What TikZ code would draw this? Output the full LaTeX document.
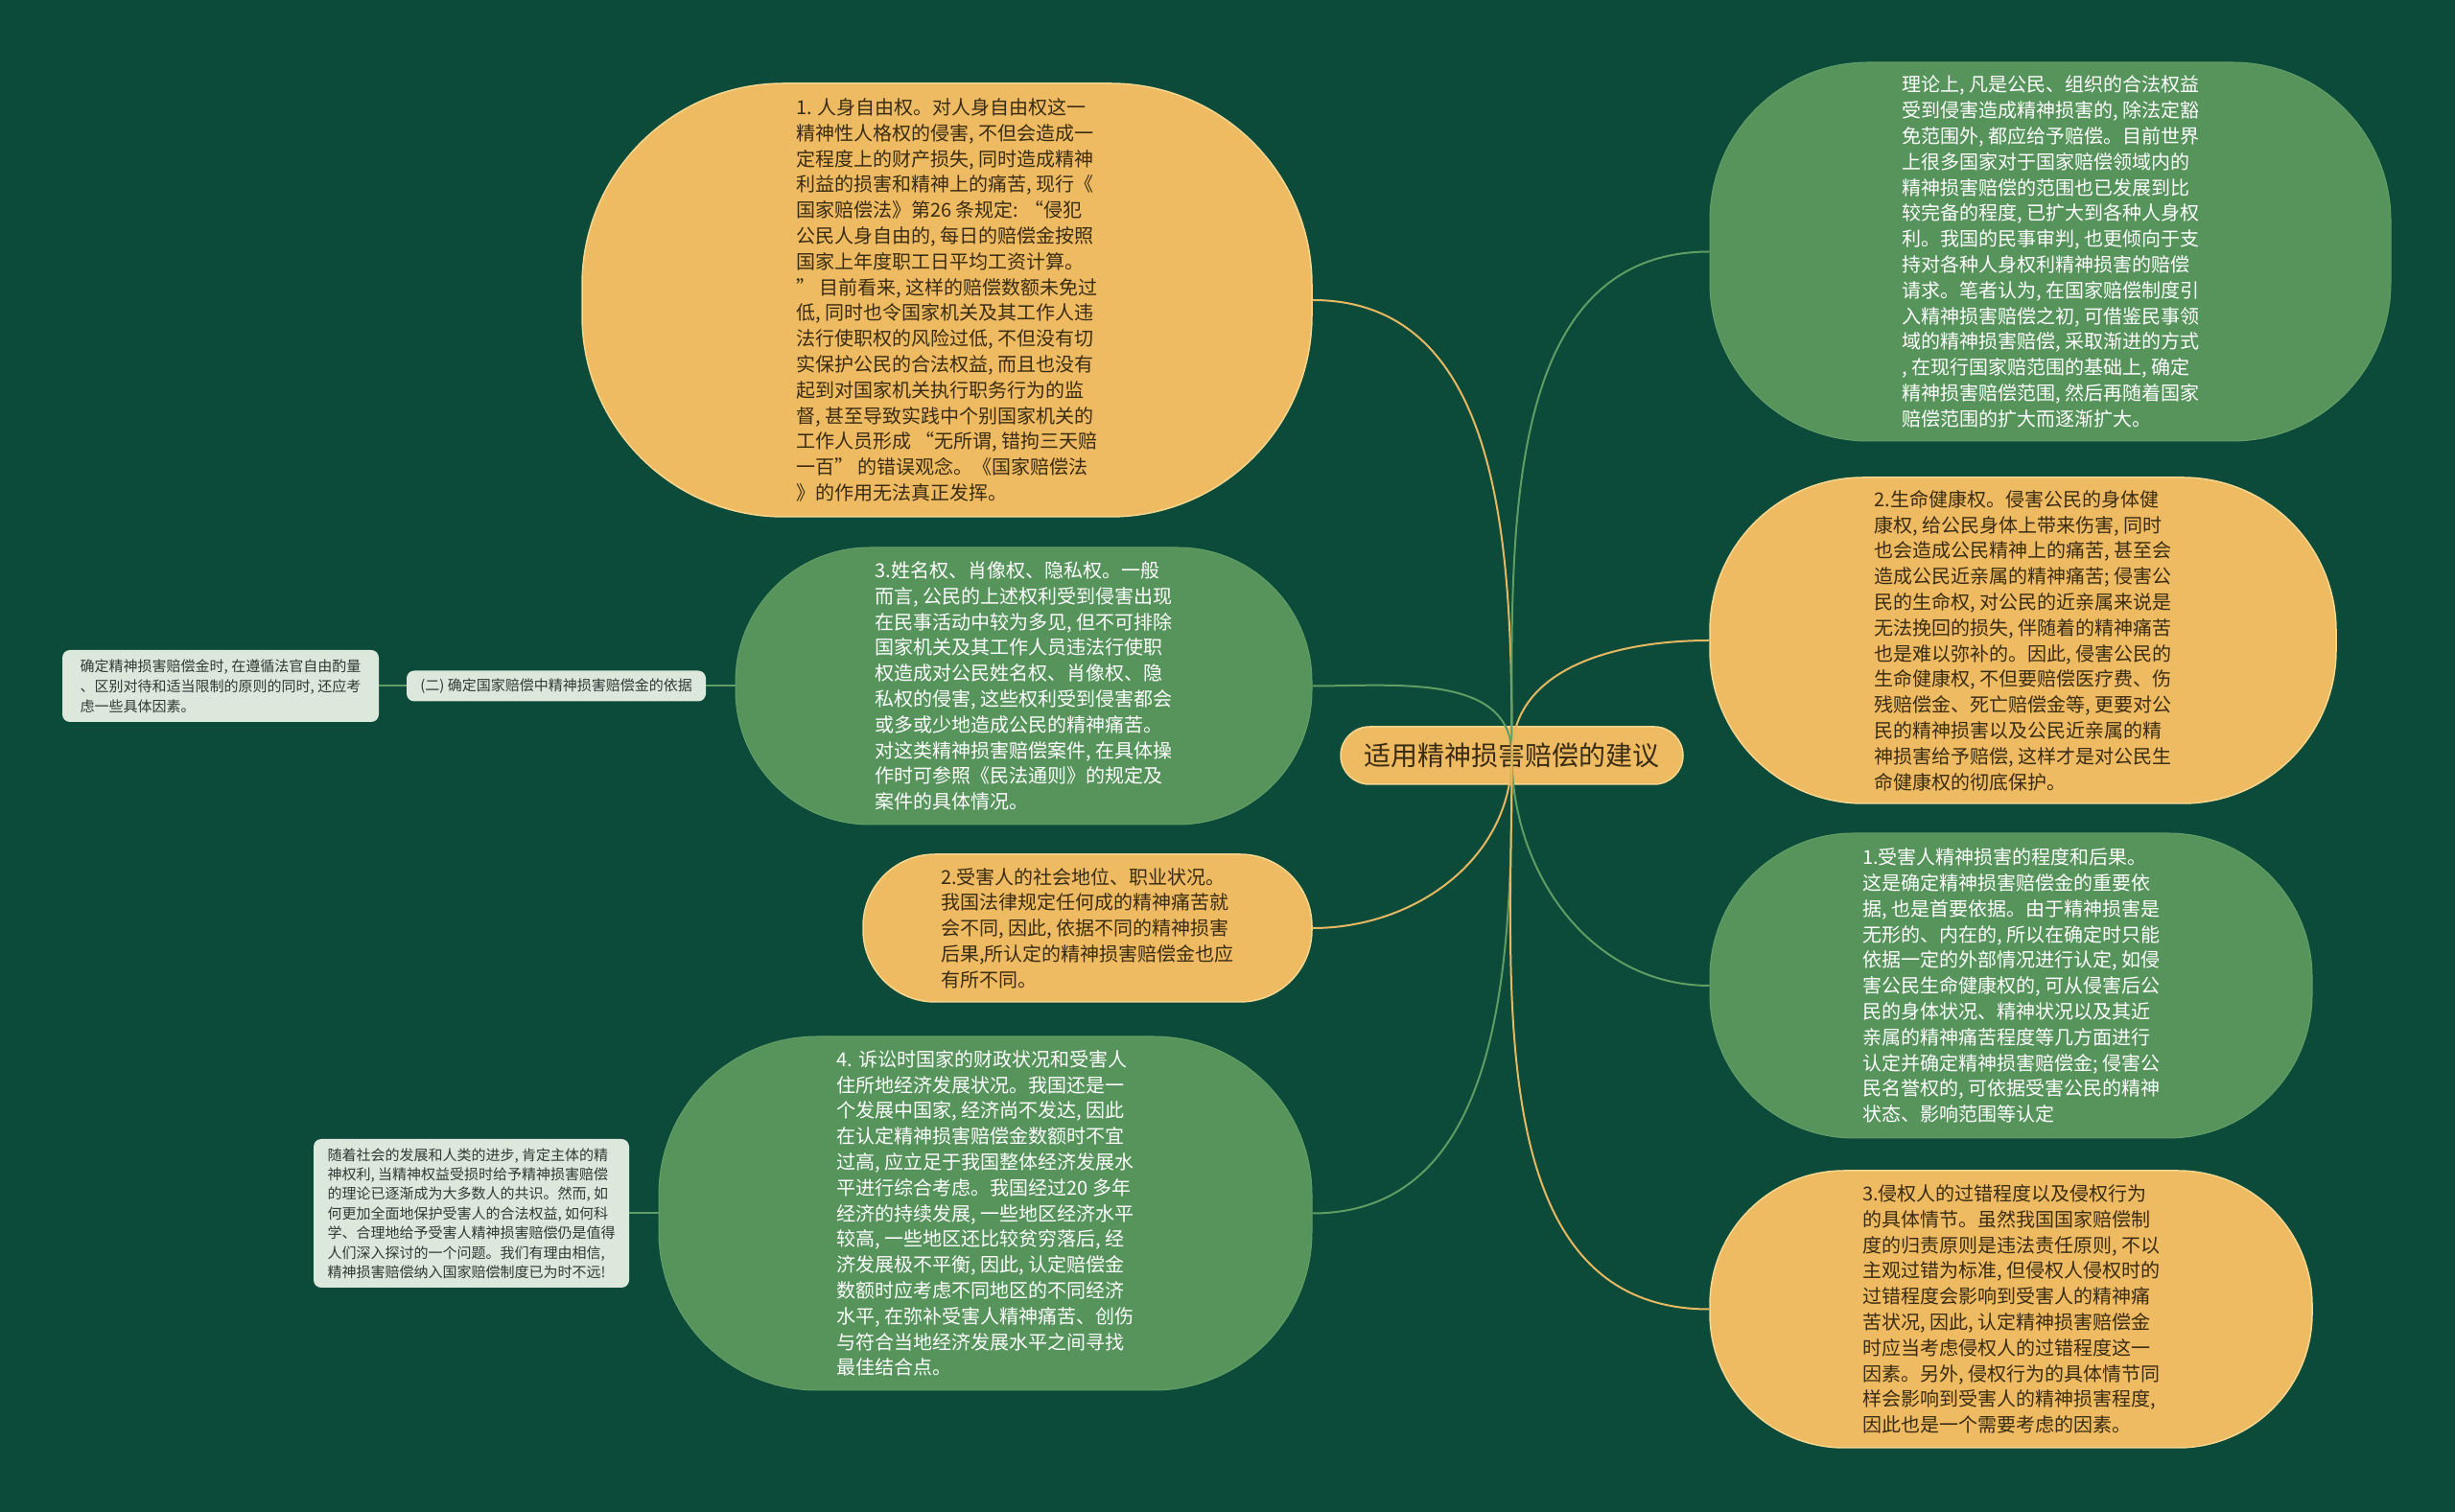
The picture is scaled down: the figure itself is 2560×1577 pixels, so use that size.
\documentclass[tikz,border=0pt]{standalone}
\usepackage{fontspec}
\setmainfont{Noto Sans CJK SC}
\usepackage{xcolor}
\usepackage{tikz}

\definecolor{bgdark}{HTML}{0C4A3A}
\definecolor{leafgreen}{HTML}{56945C}
\definecolor{leafgreenedge}{HTML}{62A068}
\definecolor{leaforange}{HTML}{EFBB62}
\definecolor{leaforangeedge}{HTML}{F7D68E}
\definecolor{notefill}{HTML}{DCE8DC}
\definecolor{notetext}{HTML}{2E3A33}
\definecolor{inkbrown}{HTML}{3A2C12}
\definecolor{wiregreen}{HTML}{5E9E64}
\definecolor{wireorange}{HTML}{E7B862}

\begin{document}
\begin{tikzpicture}[x=1pt, y=1pt,
    bubble/.style={rounded corners=#1pt, inner sep=0pt, align=left,
        font=\fontsize{20}{26.8}\selectfont},
    orangeleaf/.style={fill=leaforange, draw=leaforangeedge, line width=1.5pt, text=inkbrown},
    greenleaf/.style={fill=leafgreen, draw=leafgreenedge, line width=1pt, text=white},
    note/.style={fill=notefill, rounded corners=8pt, inner sep=0pt, align=left, text=notetext,
        font=\fontsize{15}{20.4}\selectfont},
    greenwire/.style={draw=wiregreen, line width=2pt},
    orangewire/.style={draw=wireorange, line width=2pt}]

    % Background
    \fill[bgdark] (0,0) rectangle (2560,1577);
    \useasboundingbox (0,0) rectangle (2560,1577);

    % Root
    \node[rounded corners=30pt, orangeleaf, minimum width=357pt, minimum height=60pt,
        inner sep=0pt, font=\fontsize{28}{34}\selectfont] (root) at (1576.5,789) {适用精神损害赔偿的建议};

    % Left branch
    \node[bubble=210, orangeleaf, minimum width=761pt, minimum height=452pt] (freedom) at (987.5,1264) {%
        1. 人身自由权。对人身自由权这一\\
        精神性人格权的侵害, 不但会造成一\\
        定程度上的财产损失, 同时造成精神\\
        利益的损害和精神上的痛苦, 现行《\\
        国家赔偿法》第26 条规定: “侵犯\\
        公民人身自由的, 每日的赔偿金按照\\
        国家上年度职工日平均工资计算。\\
        ” 目前看来, 这样的赔偿数额未免过\\
        低, 同时也令国家机关及其工作人违\\
        法行使职权的风险过低, 不但没有切\\
        实保护公民的合法权益, 而且也没有\\
        起到对国家机关执行职务行为的监\\
        督, 甚至导致实践中个别国家机关的\\
        工作人员形成 “无所谓, 错拘三天赔\\
        一百” 的错误观念。《国家赔偿法\\
        》的作用无法真正发挥。};
    \node[bubble=140, greenleaf, minimum width=601pt, minimum height=289pt] (privacy) at (1067.5,861.5) {%
        3.姓名权、肖像权、隐私权。一般\\
        而言, 公民的上述权利受到侵害出现\\
        在民事活动中较为多见, 但不可排除\\
        国家机关及其工作人员违法行使职\\
        权造成对公民姓名权、肖像权、隐\\
        私权的侵害, 这些权利受到侵害都会\\
        或多或少地造成公民的精神痛苦。\\
        对这类精神损害赔偿案件, 在具体操\\
        作时可参照《民法通则》的规定及\\
        案件的具体情况。};
    \node[bubble=75, orangeleaf, minimum width=468pt, minimum height=154pt] (status) at (1134,609) {%
        2.受害人的社会地位、职业状况。\\
        我国法律规定任何成的精神痛苦就\\
        会不同, 因此, 依据不同的精神损害\\
        后果,所认定的精神损害赔偿金也应\\
        有所不同。};
    \node[bubble=165, greenleaf, minimum width=681pt, minimum height=369pt] (finance) at (1027.5,311.5) {%
        4. 诉讼时国家的财政状况和受害人\\
        住所地经济发展状况。我国还是一\\
        个发展中国家, 经济尚不发达, 因此\\
        在认定精神损害赔偿金数额时不宜\\
        过高, 应立足于我国整体经济发展水\\
        平进行综合考虑。我国经过20 多年\\
        经济的持续发展, 一些地区经济水平\\
        较高, 一些地区还比较贫穷落后, 经\\
        济发展极不平衡, 因此, 认定赔偿金\\
        数额时应考虑不同地区的不同经济\\
        水平, 在弥补受害人精神痛苦、创伤\\
        与符合当地经济发展水平之间寻找\\
        最佳结合点。};

    % Side notes
    \node[note, minimum width=312pt, minimum height=32pt] (basis) at (580,861.5) {(二) 确定国家赔偿中精神损害赔偿金的依据};
    \node[note, minimum width=330pt, minimum height=75pt, font=\fontsize{15}{21}\selectfont] (basisnote) at (230,861.5) {%
        确定精神损害赔偿金时, 在遵循法官自由酌量\\
        、区别对待和适当限制的原则的同时, 还应考\\
        虑一些具体因素。};
    \node[note, minimum width=329pt, minimum height=155pt] (outlook) at (491.5,311.5) {%
        随着社会的发展和人类的进步, 肯定主体的精\\
        神权利, 当精神权益受损时给予精神损害赔偿\\
        的理论已逐渐成为大多数人的共识。然而, 如\\
        何更加全面地保护受害人的合法权益, 如何科\\
        学、合理地给予受害人精神损害赔偿仍是值得\\
        人们深入探讨的一个问题。我们有理由相信,\\
        精神损害赔偿纳入国家赔偿制度已为时不远!};

    % Right branch
    \node[bubble=165, greenleaf, minimum width=710pt, minimum height=395pt] (theory) at (2138,1314.5) {%
        理论上, 凡是公民、组织的合法权益\\
        受到侵害造成精神损害的, 除法定豁\\
        免范围外, 都应给予赔偿。目前世界\\
        上很多国家对于国家赔偿领域内的\\
        精神损害赔偿的范围也已发展到比\\
        较完备的程度, 已扩大到各种人身权\\
        利。我国的民事审判, 也更倾向于支\\
        持对各种人身权利精神损害的赔偿\\
        请求。笔者认为, 在国家赔偿制度引\\
        入精神损害赔偿之初, 可借鉴民事领\\
        域的精神损害赔偿, 采取渐进的方式\\
        , 在现行国家赔范围的基础上, 确定\\
        精神损害赔偿范围, 然后再随着国家\\
        赔偿范围的扩大而逐渐扩大。};
    \node[bubble=160, orangeleaf, minimum width=653pt, minimum height=340pt] (health) at (2109.5,909) {%
        2.生命健康权。侵害公民的身体健\\
        康权, 给公民身体上带来伤害, 同时\\
        也会造成公民精神上的痛苦, 甚至会\\
        造成公民近亲属的精神痛苦; 侵害公\\
        民的生命权, 对公民的近亲属来说是\\
        无法挽回的损失, 伴随着的精神痛苦\\
        也是难以弥补的。因此, 侵害公民的\\
        生命健康权, 不但要赔偿医疗费、伤\\
        残赔偿金、死亡赔偿金等, 更要对公\\
        民的精神损害以及公民近亲属的精\\
        神损害给予赔偿, 这样才是对公民生\\
        命健康权的彻底保护。};
    \node[bubble=150, greenleaf, minimum width=628pt, minimum height=318pt] (degree) at (2097,549) {%
        1.受害人精神损害的程度和后果。\\
        这是确定精神损害赔偿金的重要依\\
        据, 也是首要依据。由于精神损害是\\
        无形的、内在的, 所以在确定时只能\\
        依据一定的外部情况进行认定, 如侵\\
        害公民生命健康权的, 可从侵害后公\\
        民的身体状况、精神状况以及其近\\
        亲属的精神痛苦程度等几方面进行\\
        认定并确定精神损害赔偿金; 侵害公\\
        民名誉权的, 可依据受害公民的精神\\
        状态、影响范围等认定};
    \node[bubble=140, orangeleaf, minimum width=628pt, minimum height=289pt] (fault) at (2097,211.5) {%
        3.侵权人的过错程度以及侵权行为\\
        的具体情节。虽然我国国家赔偿制\\
        度的归责原则是违法责任原则, 不以\\
        主观过错为标准, 但侵权人侵权时的\\
        过错程度会影响到受害人的精神痛\\
        苦状况, 因此, 认定精神损害赔偿金\\
        时应当考虑侵权人的过错程度这一\\
        因素。另外, 侵权行为的具体情节同\\
        样会影响到受害人的精神损害程度,\\
        因此也是一个需要考虑的因素。};

    % Connectors
    \draw[orangewire] (root.center) to[out=90, in=0] (freedom.east);
    \draw[greenwire] (root.center) to[out=90, in=0] (privacy.east);
    \draw[orangewire] (root.center) to[out=-90, in=0] (status.east);
    \draw[greenwire] (root.center) to[out=-90, in=0] (finance.east);
    \draw[greenwire] (root.center) to[out=90, in=180] (theory.west);
    \draw[orangewire] (root.center) to[out=90, in=180] (health.west);
    \draw[greenwire] (root.center) to[out=-90, in=180] (degree.west);
    \draw[orangewire] (root.center) to[out=-90, in=180] (fault.west);
    \draw[greenwire] (basis.east) -- (privacy.west);
    \draw[greenwire] (basisnote.east) -- (basis.west);
    \draw[greenwire] (outlook.east) -- (finance.west);
\end{tikzpicture}
\end{document}
